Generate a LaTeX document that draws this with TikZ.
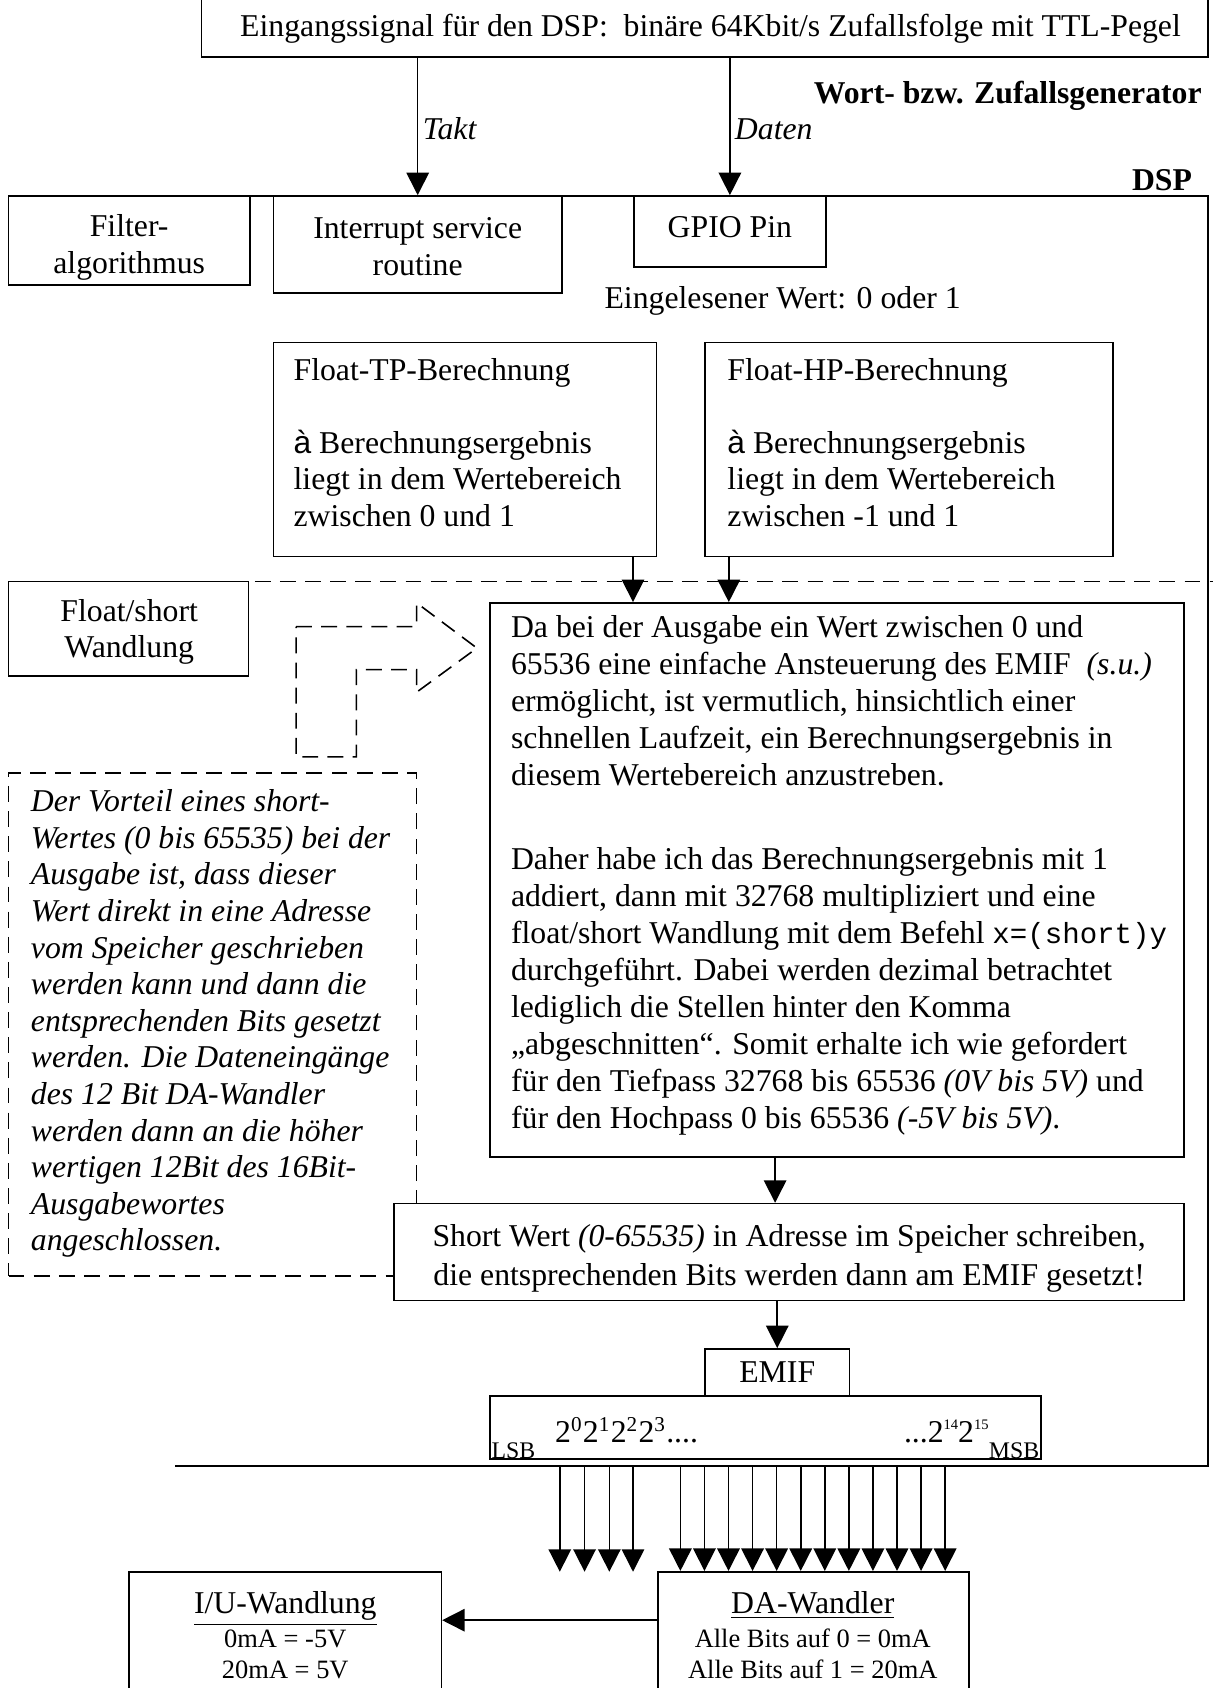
\documentclass[tikz,border=0pt]{standalone}
\usepackage{fontspec}
\setmainfont{Liberation Serif}
\setsansfont{Liberation Sans}
\setmonofont{Liberation Mono}
\usetikzlibrary{arrows.meta,fit}
\newcommand{\pfeilzeichen}{{\sffamily à}}
\newcommand{\klsup}[1]{\raisebox{5pt}{\fontsize{5.5}{6}\selectfont #1}}
\begin{document}
\begin{tikzpicture}[x=0.407pt,y=-0.407pt,
  line width=0.6pt,
  bx/.style={draw,inner sep=0pt,line width=0.6pt},
  tx/.style={inner sep=0pt,font=\fontsize{12}{13.84}\selectfont},
  tl/.style={tx,align=left,anchor=base west},
  tc/.style={tx,align=center},
  arr/.style={-{Triangle[length=8.5pt,width=8.5pt]}},
  dsh/.style={dash pattern=on 6pt off 3.5pt,line width=0.6pt}]
\useasboundingbox (0,0) rectangle (1127,1568);
\clip (0,0) rectangle (1127,1568);

% generator
\node[bx,fit={(187,-30) (1122,53)}] (gen) {};
\node[tx,anchor=base] (gentxt) at (660,34) {Eingangssignal für den DSP:\ \ binäre 64Kbit/s Zufallsfolge mit TTL-Pegel};
\node[tx,font=\fontsize{12}{13.84}\selectfont\bfseries,anchor=base east] (wort) at (1117,96) {Wort- bzw. Zufallsgenerator};

% DSP frame
\draw (187,182) -- (1122,182) -- (1122,1362) -- (163,1362);
\node[tx,font=\fontsize{12}{13.84}\selectfont\bfseries,anchor=base east] (dsp) at (1108,177) {DSP};

% top boxes
\node[bx,fit={(8,182) (232,265)}] (filt) {};
\node[tc] (filttxt) at (120,230) {Filter-\\algorithmus};
\node[bx,fit={(254,182) (522,272)}] (isr) {};
\node[tc] (isrtxt) at (388,229) {Interrupt service\\routine};
\node[bx,fit={(589,182) (767,248)}] (gpio) {};
\node[tc] (gpiotxt) at (678,211) {GPIO Pin};
\node[tx,anchor=base] (einw) at (727,287) {Eingelesener Wert: 0 oder 1};

\draw[arr] (gen.south -| isr.north) -- (isr.north);
\draw[arr] (gen.south -| gpio.north) -- (gpio.north);
\node[tx,font=\fontsize{12}{13.84}\selectfont\itshape,anchor=base west] (takt) at (392,130) {Takt};
\node[tx,font=\fontsize{12}{13.84}\selectfont\itshape,anchor=base west] (daten) at (682,130) {Daten};

% TP / HP
\node[bx,fit={(254,318) (610,517)}] (tp) {};
\node[tl] (tptxt) at (272,489) {Float-TP-Berechnung\\[13.84pt]\pfeilzeichen{} Berechnungsergebnis\\liegt in dem Wertebereich\\zwischen 0 und 1};
\node[bx,fit={(655,318) (1034,517)}] (hp) {};
\node[tl] (hptxt) at (675,489) {Float-HP-Berechnung\\[13.84pt]\pfeilzeichen{} Berechnungsergebnis\\liegt in dem Wertebereich\\zwischen -1 und 1};

\draw[dsh] (190,540) -- (1127,540);

% float/short
\node[bx,fit={(8,540) (231,628)}] (fs) {};
\node[tc] (fstxt) at (120,587) {Float/short\\Wandlung};
\draw[dsh] (275,582) -- (387,582) -- (387,560) -- (443,602) -- (387,643) -- (387,622) -- (331,622) -- (331,703) -- (275,703) -- cycle;

% main box
\node[bx,fit={(455,560) (1100,1075)}] (main) {};
\node[tl,font=\fontsize{12}{14}\selectfont] (maintxt) at (474,1048) {Da bei der Ausgabe ein Wert zwischen 0 und\\
65536 eine einfache Ansteuerung des EMIF\ \ \textit{(s.u.)}\\
ermöglicht, ist vermutlich, hinsichtlich einer\\
schnellen Laufzeit, ein Berechnungsergebnis in\\
diesem Wertebereich anzustreben.\\[17.5pt]
Daher habe ich das Berechnungsergebnis mit 1\\
addiert, dann mit 32768 multipliziert und eine\\
float/short Wandlung mit dem Befehl {\ttfamily\fontsize{11}{14}\selectfont x=(short)y}\\
durchgeführt. Dabei werden dezimal betrachtet\\
lediglich die Stellen hinter den Komma\\
„abgeschnitten“. Somit erhalte ich wie gefordert\\
für den Tiefpass 32768 bis 65536 \textit{(0V bis 5V)} und\\
für den Hochpass 0 bis 65536 \textit{(-5V bis 5V)}.};

\coordinate (tpo) at (588,517);
\coordinate (hpo) at (677,517);
\draw[arr] (tpo) -- (tpo |- main.north);
\draw[arr] (hpo) -- (hpo |- main.north);

% dashed note
\node[draw,dsh,inner sep=0pt,fit={(8,718) (387,1185)}] (vor) {};
\node[tl,font=\fontsize{12}{13.84}\selectfont\itshape] (vortxt) at (28,1162) {Der Vorteil eines short-\\
Wertes (0 bis 65535) bei der\\
Ausgabe ist, dass dieser\\
Wert direkt in eine Adresse\\
vom Speicher geschrieben\\
werden kann und dann die\\
entsprechenden Bits gesetzt\\
werden. Die Dateneingänge\\
des 12 Bit DA-Wandler\\
werden dann an die höher\\
wertigen 12Bit des 16Bit-\\
Ausgabewortes\\
angeschlossen.};

% short box
\node[bx,fill=white,fit={(366,1118) (1100,1208)}] (short) {};
\node[tc,font=\fontsize{12}{14.6}\selectfont] (shorttxt) at (733,1169) {Short Wert \textit{(0-65535)} in Adresse im Speicher schreiben,\\die entsprechenden Bits werden dann am EMIF gesetzt!};
\coordinate (mo) at (720,1075);
\draw[arr] (mo) -- (mo |- short.north);

% EMIF
\node[bx,fit={(655,1253) (789,1297)}] (emif) {};
\node[tc] (emiftxt) at (emif.center) {EMIF};
\draw[arr] (short.south -| emif.north) -- (emif.north);

% register
\node[bx,fit={(455,1297) (967,1355)}] (reg) {};
\node[tx,font=\fontsize{9}{10}\selectfont,anchor=base west] (lsb) at (456,1355) {LSB};
\node[tx,font=\fontsize{9}{10}\selectfont,anchor=base east] (msb) at (966,1355) {MSB};
\node[tx,anchor=base west] (bitsl) at (515,1340) {2\textsuperscript{0}2\textsuperscript{1}2\textsuperscript{2}2\textsuperscript{3}....};
\node[tx,anchor=base west] (bitsh) at (839,1340) {...2\klsup{14}2\klsup{15}};

% DA and I/U
\node[bx,fit={(611,1460) (900,1620)}] (da) {};
\node[tx,anchor=base] (datit) at (755,1499) {\underline{DA-Wandler}};
\node[tx,font=\fontsize{10}{12}\selectfont,anchor=base] (da1) at (755,1530) {Alle Bits auf 0 = 0mA};
\node[tx,font=\fontsize{10}{12}\selectfont,anchor=base] (da2) at (755,1559) {Alle Bits auf 1 = 20mA};
\node[bx,fit={(120,1460) (410,1620)}] (iu) {};
\node[tx,anchor=base] (iutit) at (265,1499) {\underline{I/U-Wandlung}};
\node[tx,font=\fontsize{10}{12}\selectfont,anchor=base] (iu1) at (265,1530) {0mA = -5V};
\node[tx,font=\fontsize{10}{12}\selectfont,anchor=base] (iu2) at (265,1559) {20mA = 5V};
\coordinate (dout) at (611,1505);
\draw[arr] (dout) -- (dout -| iu.east);

% bit lines
\foreach \x [count=\i] in {520,543,566,588} {
  \coordinate (ls\i) at (\x,1362);
  \coordinate (le\i) at (\x,1460);
  \draw[arr] (ls\i) -- (le\i);
}
\foreach \i in {0,...,11} {
  \pgfmathsetmacro\xx{632+22.36*\i}
  \coordinate (hs\i) at (\xx,1362);
  \draw[arr] (hs\i) -- (hs\i |- da.north);
}
\end{tikzpicture}
\end{document}
